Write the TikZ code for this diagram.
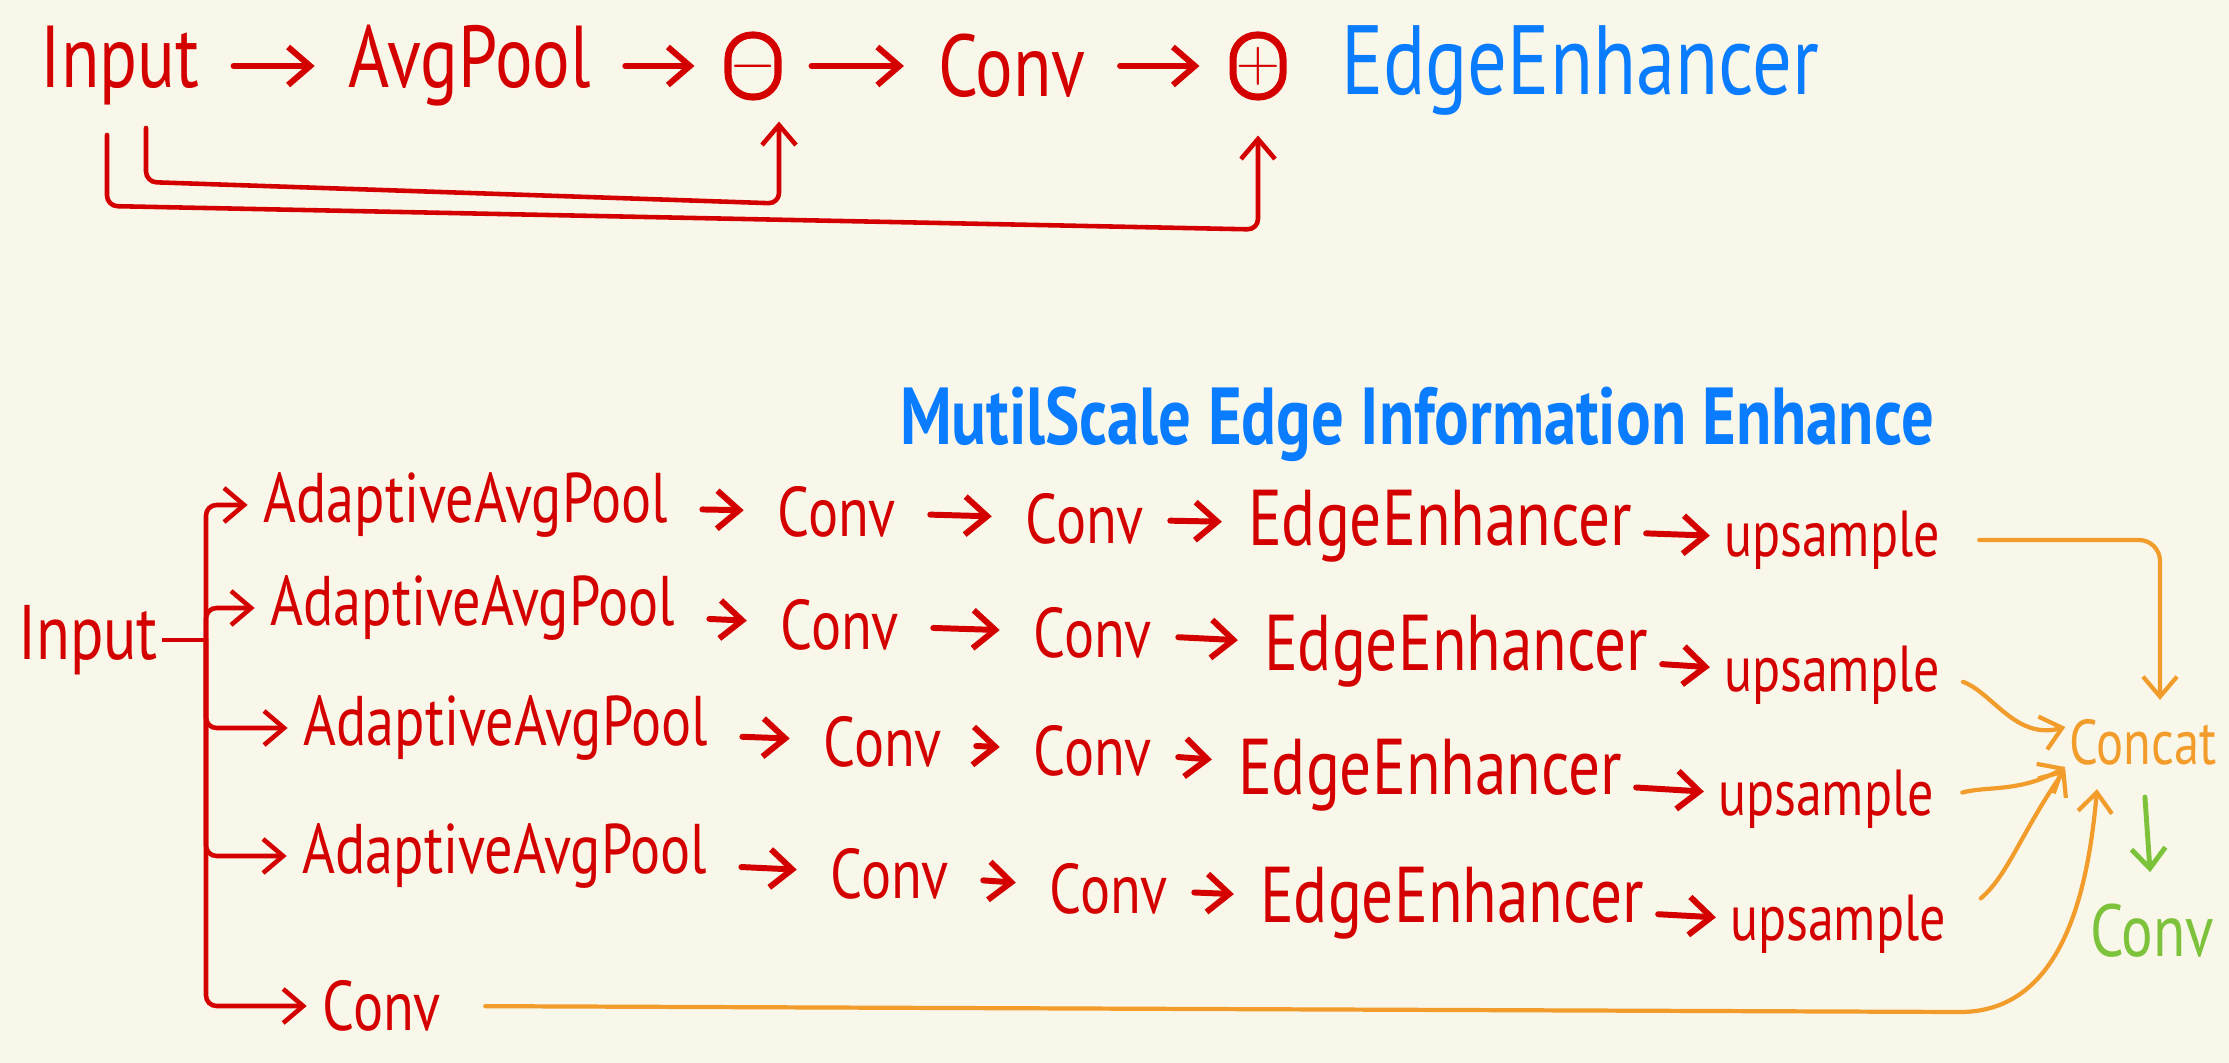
\documentclass[tikz,border=0pt]{standalone}
\usepackage{fontspec}
\setmainfont{PT Sans}[FakeStretch=0.8]
\usetikzlibrary{calc,arrows.meta}
\definecolor{inkred}{HTML}{D40000}
\definecolor{inkblue}{HTML}{0A7CFF}
\definecolor{inkorange}{HTML}{F29C2B}
\definecolor{inkgreen}{HTML}{7CC23A}
\definecolor{paper}{HTML}{F9F7EA}

\begin{document}
\begin{tikzpicture}[
    word/.style={text=inkred, inner sep=1pt, font=\fontsize{20}{20}\selectfont},
    bigword/.style={word, font=\fontsize{25}{25}\selectfont},
    edgeword/.style={word, font=\fontsize{22.5}{22.5}\selectfont},
    upword/.style={word, font=\fontsize{18.5}{18.5}\selectfont},
    opbox/.style={draw=inkred, line width=2pt, rounded corners=2.4mm, minimum width=5mm,
                  minimum height=6.2mm, inner sep=0pt, text=inkred, font=\bfseries\fontsize{19}{19}\selectfont},
    title/.style={text=inkblue, inner sep=0pt},
    arrow/.style={-{Straight Barb[length=2.2mm,width=3.8mm]}, draw=inkred, line width=1.7pt,
                  line cap=round, shorten <=0.3cm, shorten >=0.3cm},
    link/.style={-{Straight Barb[length=2mm,width=3.4mm]}, draw=inkred, line width=1.3pt,
                 line cap=round, rounded corners=3pt},
    cat/.style={-{Straight Barb[length=2mm,width=3.4mm]}, draw=inkorange, line width=1.2pt, line cap=round},
    done/.style={-{Straight Barb[length=2mm,width=3.4mm]}, draw=inkgreen, line width=1.4pt,
                 line cap=round, shorten <=0.28cm, shorten >=0.28cm}
  ]
    \fill[paper] (0,0) rectangle (22.29,-10.63);
    \useasboundingbox (0,0) rectangle (22.29,-10.63);

    % EdgeEnhancer
    \node[bigword] (in1)   at (1.20,-0.66)  {Input};
    \node[bigword] (avg)   at (4.70,-0.66)  {AvgPool};
    \node[opbox]   (minus) at (7.53,-0.66)  {$-$};
    \node[bigword] (conv1) at (10.12,-0.66) {Conv};
    \node[opbox]   (plus)  at (12.58,-0.66) {$+$};
    \node[title, font=\fontsize{28}{28}\selectfont] (title1) at (15.80,-0.70) {EdgeEnhancer};

    \foreach \a/\b in {in1/avg,avg/minus,minus/conv1,conv1/plus}
      \draw[arrow] (\a) -- (\b);

    \coordinate (tapA) at (1.46,-1.28);
    \coordinate (tapB) at (1.07,-1.35);
    \draw[link] (tapA) -- ++(0,-0.54) -- ($(minus.south)+(0.26,-1.03)$)
      -- ([xshift=0.26cm,yshift=-0.21cm]minus.south);
    \draw[link] (tapB) -- ++(0,-0.71) -- ($(plus.south)+(0,-1.29)$)
      -- ([yshift=-0.35cm]plus.south);

    % MutilScale Edge Information Enhance
    \node[title, font=\bfseries\fontsize{23}{23}\selectfont] (title2) at (14.17,-4.24)
      {MutilScale Edge Information Enhance};

    \node[word, font=\fontsize{22}{22}\selectfont] (in2) at (0.88,-6.40) {Input};

    \node[word]     (pool1)  at (4.66,-5.05)  {AdaptiveAvgPool};
    \node[word]     (convA1) at (8.37,-5.12)  {Conv};
    \node[word]     (convB1) at (10.85,-5.19) {Conv};
    \node[edgeword] (edge1)  at (14.40,-5.26) {EdgeEnhancer};
    \node[upword]   (up1)    at (18.32,-5.40) {upsample};

    \node[word]     (pool2)  at (4.73,-6.08)  {AdaptiveAvgPool};
    \node[word]     (convA2) at (8.40,-6.25)  {Conv};
    \node[word]     (convB2) at (10.93,-6.33) {Conv};
    \node[edgeword] (edge2)  at (14.56,-6.51) {EdgeEnhancer};
    \node[upword]   (up2)    at (18.32,-6.75) {upsample};

    \node[word]     (pool3)  at (5.06,-7.28)  {AdaptiveAvgPool};
    \node[word]     (convA3) at (8.83,-7.42)  {Conv};
    \node[word]     (convB3) at (10.93,-7.51) {Conv};
    \node[edgeword] (edge3)  at (14.30,-7.75) {EdgeEnhancer};
    \node[upword]   (up3)    at (18.26,-7.99) {upsample};

    \node[word]     (pool4)  at (5.05,-8.56)  {AdaptiveAvgPool};
    \node[word]     (convA4) at (8.90,-8.74)  {Conv};
    \node[word]     (convB4) at (11.09,-8.89) {Conv};
    \node[edgeword] (edge4)  at (14.52,-9.03) {EdgeEnhancer};
    \node[upword]   (up4)    at (18.38,-9.24) {upsample};

    \node[word]     (conv5)  at (3.82,-10.06) {Conv};

    \node[text=inkorange, inner sep=1pt, font=\fontsize{18}{18}\selectfont] (concat) at (21.43,-7.42) {Concat};
    \node[text=inkgreen, inner sep=1pt, font=\fontsize{21}{21}\selectfont] (conv6) at (21.52,-9.31) {Conv};

    \coordinate (split) at (2.06,-6.40);
    \draw[draw=inkred, line width=1.3pt] (in2.east) -- (split);
    \foreach \n in {pool1,pool2,pool3,pool4,conv5}
      \draw[link, shorten >=0.12cm] (split) |- (\n.west);

    \foreach \r in {1,2,3,4}
      \foreach \a/\b/\gap in {pool/convA/0.3cm,convA/convB/0.3cm,convB/edge/0.22cm,edge/up/0.1cm}
        \draw[arrow, shorten <=\gap, shorten >=\gap] (\a\r) -- (\b\r);

    \draw[cat, rounded corners=6pt, shorten <=0.35cm, shorten >=0.15cm]
      (up1.east) -| ([xshift=0.17cm]concat.north);
    \draw[cat, shorten <=0.2cm] (up2.east) to[out=-20,in=195] ([yshift=0.15cm]concat.west);
    \draw[cat, shorten <=0.25cm] (up3.east) to[out=15,in=210] ([yshift=-0.25cm]concat.west);
    \draw[cat, shorten <=0.4cm] (up4.east) to[out=40,in=235] (concat.south west);
    \draw[cat, shorten <=0.4cm] (conv5.east) -- (19.6,-10.12)
      to[out=0,in=-95] ([xshift=-0.46cm,yshift=-0.2cm]concat.south);

    \draw[done] (concat.south) -- (conv6.north);
  \end{tikzpicture}
\end{document}
